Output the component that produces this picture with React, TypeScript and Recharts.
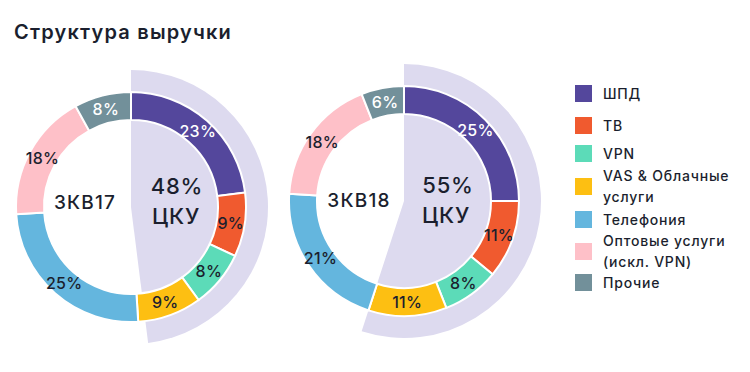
import React from 'react';
import { PieChart, Pie, Cell, Legend, Customized } from 'recharts';

// ---- data ----
const categories: string[][] = [
  ['ШПД'],
  ['ТВ'],
  ['VPN'],
  ['VAS & Облачные', 'услуги'],
  ['Телефония'],
  ['Оптовые услуги', '(искл. VPN)'],
  ['Прочие'],
];
const colors = ['#54479c', '#f05a2f', '#5cdbb8', '#fdbf12', '#64b6de', '#fec0c8', '#72909a'];
const labelColors = ['#ffffff', '#1b1f2e', '#1b1f2e', '#1b1f2e', '#1b1f2e', '#1b1f2e', '#ffffff'];
const q3_17 = [23, 9, 8, 9, 25, 18, 8];
const q3_18 = [25, 11, 8, 11, 21, 18, 6];
const periods = ['3КВ17', '3КВ18'];
const ckuShare = [48, 55];
const ckuLabel = 'ЦКУ';
const title = 'Структура выручки';

const LAVENDER = '#dddaef';
const TEXT = '#1b1f2e';
const FONT = 'Inter, "DejaVu Sans", sans-serif';

const toRows = (vals: number[]) =>
  vals.map((v, i) => ({ name: categories[i].join(' '), value: v }));
const ckuRows = (share: number) => [
  { name: ckuLabel, value: share },
  { name: 'rest', value: 100 - share },
];

const RAD = Math.PI / 180;
const renderLabel = (props: any) => {
  const { cx, cy, midAngle, innerRadius, outerRadius, value, index } = props;
  const r = (innerRadius + outerRadius) / 2;
  const x = cx + r * Math.cos(-midAngle * RAD);
  const y = cy + r * Math.sin(-midAngle * RAD);
  return (
    <text
      x={x}
      y={y}
      textAnchor="middle"
      dominantBaseline="central"
      fill={labelColors[index]}
      fontSize={16}
      fontWeight={500}
      fontFamily={FONT}
      letterSpacing={0.3}
    >
      {value}%
    </text>
  );
};

const charts = [
  { cx: 131, cy: 207, data: q3_17, share: ckuShare[0], period: periods[0],
    pOff: [-46, -5], sOff: [46, -21], cOff: [45, 9] },
  { cx: 404, cy: 201, data: q3_18, share: ckuShare[1], period: periods[1],
    pOff: [-45, -1], sOff: [44, -16], cOff: [42, 14] },
];

const makeCenterLabel = (k: number) => (props: any) => {
  const { cx, cy, index } = props;
  const c = charts[k];
  if (index === 0) {
    return (
      <g fontFamily={FONT} fill={TEXT}>
        <text x={cx + c.sOff[0]} y={cy + c.sOff[1]} fontSize={22} fontWeight={500} textAnchor="middle" dominantBaseline="central" letterSpacing={0.8}>{c.share}%</text>
        <text x={cx + c.cOff[0]} y={cy + c.cOff[1]} fontSize={22} fontWeight={500} textAnchor="middle" dominantBaseline="central" letterSpacing={0.8}>{ckuLabel}</text>
      </g>
    );
  }
  return (
    <text x={cx + c.pOff[0]} y={cy + c.pOff[1]} fontFamily={FONT} fill={TEXT} fontSize={19} fontWeight={500} textAnchor="middle" dominantBaseline="central" letterSpacing={1.2}>{c.period}</text>
  );
};

const legendGaps = [0, 11, 7, 1, 2, 0, 0];

const LegendBox = () => (
  <div style={{ fontFamily: FONT, color: TEXT, fontSize: 14, fontWeight: 500, letterSpacing: 0.8 }}>
    {categories.map((lines, i) => (
      <div key={i} style={{ display: 'flex', alignItems: 'center', marginTop: legendGaps[i] }}>
        <div style={{ width: 17, height: 17, background: colors[i], marginRight: 11, flexShrink: 0 }} />
        <div style={{ lineHeight: '21px' }}>
          {lines.map((l, j) => (
            <div key={j} style={{ whiteSpace: 'nowrap' }}>{l}</div>
          ))}
        </div>
      </div>
    ))}
  </div>
);

const TitleText = () => (
  <text x={14} y={39} fontFamily={FONT} fill={TEXT} fontSize={20} fontWeight={600} letterSpacing={1.2}>{title}</text>
);

export default function App() {
  return (
    <div style={{ position: 'absolute', left: 0, top: 0, width: 750, height: 372, background: '#fff' }}>
      <PieChart width={750} height={372} margin={{ top: 0, right: 0, bottom: 0, left: 0 }}>
        {charts.map((c, k) => (
          <Pie
            key={'bg' + k}
            data={ckuRows(c.share)}
            dataKey="value"
            cx={c.cx}
            cy={c.cy}
            innerRadius={0}
            outerRadius={137}
            startAngle={90}
            endAngle={-270}
            stroke="none"
            label={makeCenterLabel(k)}
            labelLine={false}
            isAnimationActive={false}
            legendType="none"
          >
            <Cell fill={LAVENDER} />
            <Cell fill="transparent" />
          </Pie>
        ))}
        {charts.map((c, k) => (
          <Pie
            key={'ring' + k}
            data={toRows(c.data)}
            dataKey="value"
            cx={c.cx}
            cy={c.cy}
            innerRadius={87}
            outerRadius={115}
            startAngle={90}
            endAngle={-270}
            stroke="#ffffff"
            strokeWidth={2}
            label={renderLabel}
            labelLine={false}
            isAnimationActive={false}
          >
            {c.data.map((_, i) => (
              <Cell key={i} fill={colors[i]} />
            ))}
          </Pie>
        ))}
        <Customized component={<TitleText />} />
        <Legend
          layout="vertical"
          align="right"
          verticalAlign="middle"
          content={() => <LegendBox />}
          wrapperStyle={{ left: 575, top: 83, width: 175, right: 'auto', bottom: 'auto' }}
        />
      </PieChart>
    </div>
  );
}
